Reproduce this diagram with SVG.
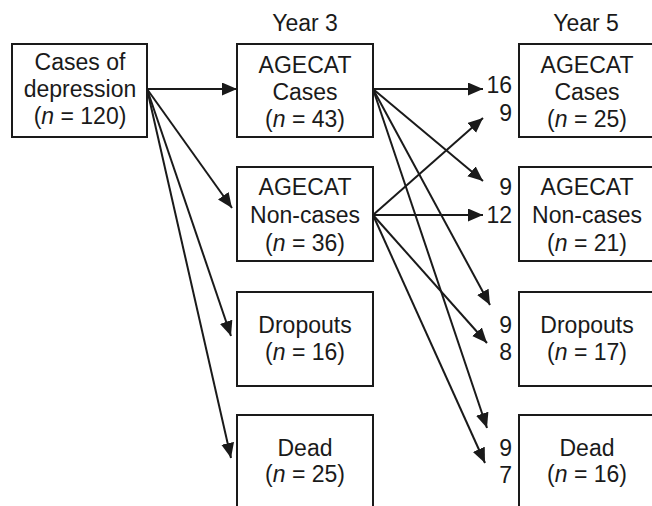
<svg xmlns="http://www.w3.org/2000/svg" width="652" height="506" viewBox="0 0 652 506">
<style>
.box{fill:#fff;stroke:#1a1a1a;stroke-width:2}
.t{font-family:"Liberation Sans",Arial,sans-serif;font-size:23px;fill:#1a1a1a;text-anchor:middle}
.n{text-anchor:end}
.i{font-style:italic}
.c{stroke:#1a1a1a;stroke-width:2;fill:none;marker-end:url(#ah)}
</style>
<defs>
<marker id="ah" markerUnits="userSpaceOnUse" markerWidth="16" markerHeight="14" refX="15" refY="6.5" orient="auto">
<path d="M0,0 L15,6.5 L0,13 Z" fill="#1a1a1a"/>
</marker>
</defs>
<rect width="652" height="506" fill="#fff"/>
<text class="t" x="305" y="31">Year 3</text>
<text class="t" x="586" y="31">Year 5</text>
<g id="start">
<rect class="box" x="12" y="44" width="135" height="93"/>
<text class="t" x="80" y="70">Cases of</text>
<text class="t" x="80" y="97">depression</text>
<text class="t" x="80" y="124">(<tspan class="i">n</tspan> = 120)</text>
</g>
<g id="y3-cases">
<rect class="box" x="237" y="44" width="136" height="93"/>
<text class="t" x="305" y="73">AGECAT</text>
<text class="t" x="305" y="100">Cases</text>
<text class="t" x="305" y="127">(<tspan class="i">n</tspan> = 43)</text>
</g>
<g id="y3-noncases">
<rect class="box" x="237" y="167" width="136" height="94"/>
<text class="t" x="305" y="195">AGECAT</text>
<text class="t" x="305" y="223">Non-cases</text>
<text class="t" x="305" y="251">(<tspan class="i">n</tspan> = 36)</text>
</g>
<g id="y3-dropouts">
<rect class="box" x="237" y="292" width="136" height="94"/>
<text class="t" x="305" y="333">Dropouts</text>
<text class="t" x="305" y="360">(<tspan class="i">n</tspan> = 16)</text>
</g>
<g id="y3-dead">
<rect class="box" x="237" y="415" width="136" height="110"/>
<text class="t" x="305" y="456">Dead</text>
<text class="t" x="305" y="482">(<tspan class="i">n</tspan> = 25)</text>
</g>
<g id="y5-cases">
<rect class="box" x="519" y="44" width="136" height="93"/>
<text class="t" x="587" y="73">AGECAT</text>
<text class="t" x="587" y="100">Cases</text>
<text class="t" x="587" y="127">(<tspan class="i">n</tspan> = 25)</text>
<text class="t n" x="512" y="93">16</text>
<text class="t n" x="512" y="121">9</text>
</g>
<g id="y5-noncases">
<rect class="box" x="519" y="167" width="136" height="94"/>
<text class="t" x="587" y="195">AGECAT</text>
<text class="t" x="587" y="223">Non-cases</text>
<text class="t" x="587" y="251">(<tspan class="i">n</tspan> = 21)</text>
<text class="t n" x="512" y="195">9</text>
<text class="t n" x="512" y="223">12</text>
</g>
<g id="y5-dropouts">
<rect class="box" x="519" y="292" width="136" height="94"/>
<text class="t" x="587" y="333">Dropouts</text>
<text class="t" x="587" y="360">(<tspan class="i">n</tspan> = 17)</text>
<text class="t n" x="512" y="333">9</text>
<text class="t n" x="512" y="360">8</text>
</g>
<g id="y5-dead">
<rect class="box" x="519" y="415" width="136" height="110"/>
<text class="t" x="587" y="456">Dead</text>
<text class="t" x="587" y="482">(<tspan class="i">n</tspan> = 16)</text>
<text class="t n" x="512" y="456">9</text>
<text class="t n" x="512" y="483">7</text>
</g>
<g id="connectors">
<line class="c" x1="147" y1="89" x2="237" y2="89"/>
<line class="c" x1="147" y1="89" x2="232" y2="208"/>
<line class="c" x1="147" y1="89" x2="231" y2="336"/>
<line class="c" x1="147" y1="89" x2="231" y2="458"/>
<line class="c" x1="373" y1="89" x2="483" y2="89"/>
<line class="c" x1="373" y1="89" x2="483" y2="181"/>
<line class="c" x1="373" y1="89" x2="490" y2="305"/>
<line class="c" x1="373" y1="89" x2="487" y2="428"/>
<line class="c" x1="373" y1="215" x2="483" y2="118"/>
<line class="c" x1="373" y1="215" x2="483" y2="215"/>
<line class="c" x1="373" y1="215" x2="487" y2="343"/>
<line class="c" x1="373" y1="215" x2="485" y2="463"/>
</g>
</svg>
